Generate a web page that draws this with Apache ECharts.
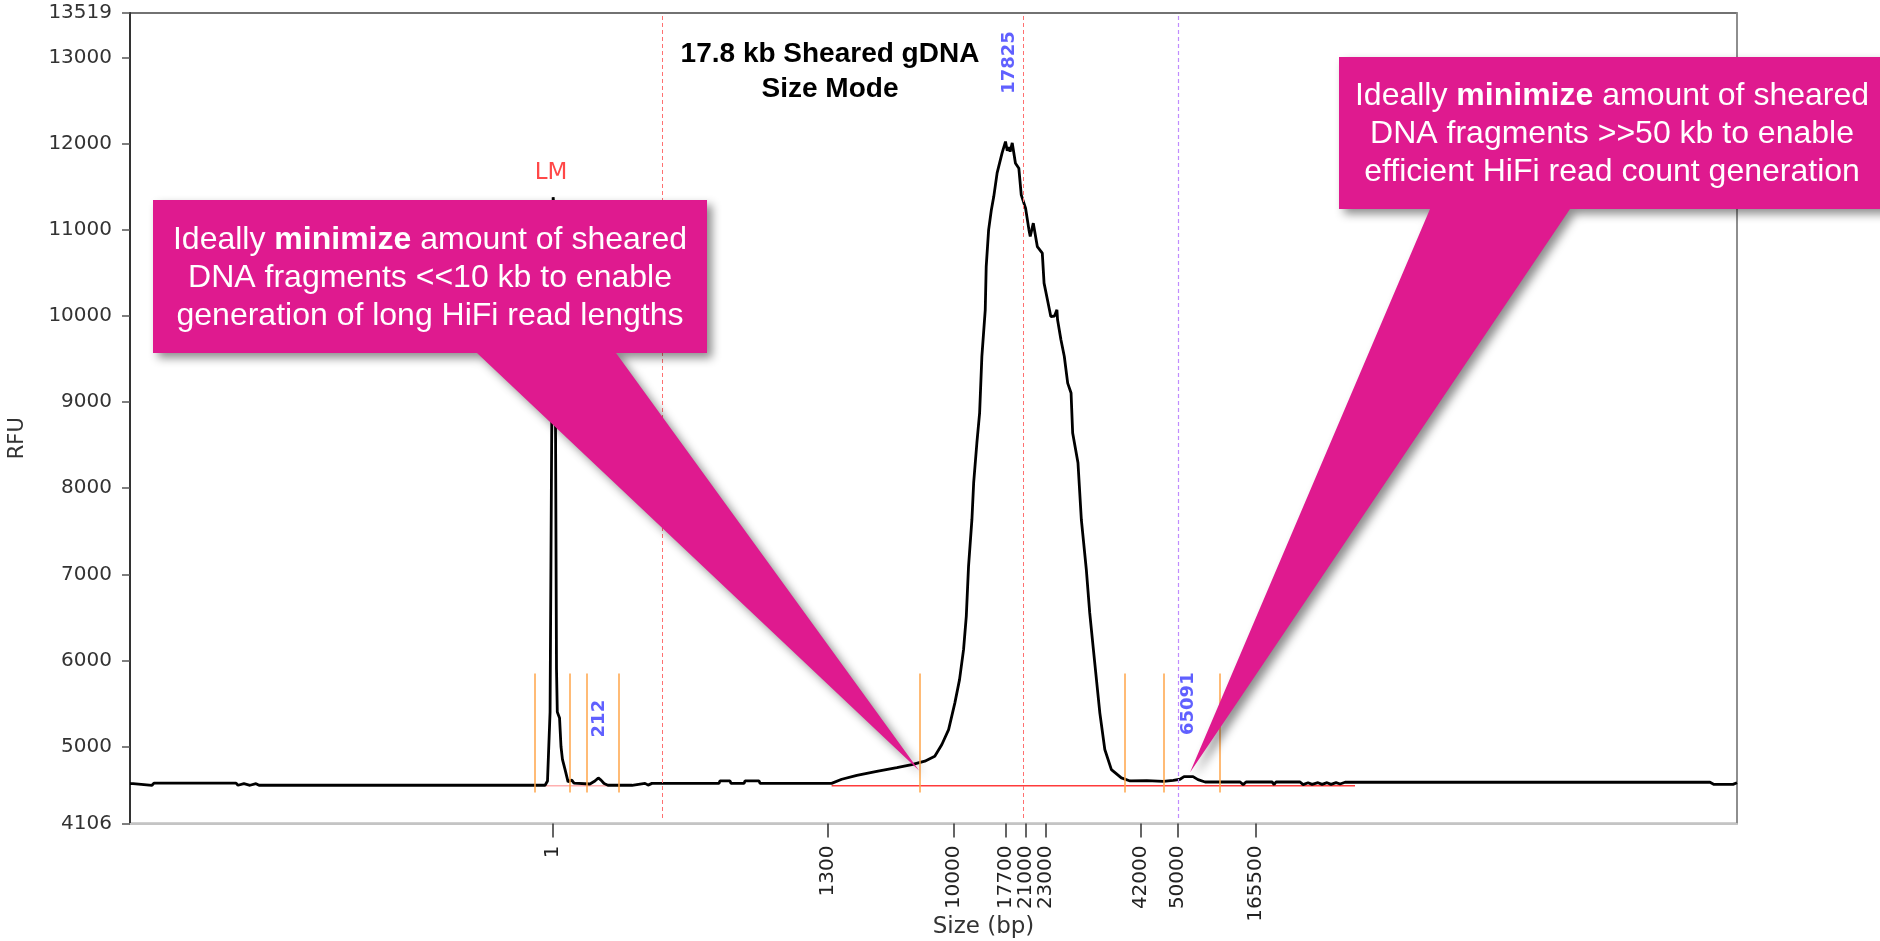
<!DOCTYPE html>
<html>
<head>
<meta charset="utf-8">
<script src="https://cdn.jsdelivr.net/npm/echarts@6/dist/echarts.min.js"></script>
<style>html,body{margin:0;padding:0;background:#fff}#c{width:1880px;height:941px}</style>
</head>
<body>
<div id="c"></div>
<script>
// ---------- DATA ----------
// migration position (0..1000, arbitrary units) of size-calibration ticks
const sizeTickPos = [263.0, 434.2, 512.8, 544.9, 557.7, 569.8, 628.9, 652.0, 700.5];
const sizeTickLabels = ['1', '1300', '10000', '17700', '21000', '23000', '42000', '50000', '165500'];
const rfuTicks = [4106, 5000, 6000, 7000, 8000, 9000, 10000, 11000, 12000, 13000, 13519];

// electropherogram trace (migration position, RFU)
const traceX = [0, 1.9, 3.1, 13.7, 14.9, 66.0, 67.2, 70.9, 74.7, 78.4, 80.3, 258.3,
  259.8, 261.4, 262.4, 263.3, 263.7, 264.8, 265.4, 265.9, 267.3, 268.2, 269.1, 270.7, 272.6, 274.9, 276.3,
  286.2, 289.3, 291.4, 293.1, 295.0, 297.4,
  312.4, 313.6, 320.5, 322.4, 324.8, 354.7, 366.5, 367.1, 373.4, 374.0, 382.1, 382.7, 391.4, 392.1, 436.6,
  442.9, 452.3, 464.7, 477.2, 486.5, 494.6, 500.8, 505.2, 509.4, 513.3, 516.2, 518.7, 520.4, 521.8,
  523.9, 525.0, 527.0, 528.7, 530.1, 532.2, 532.8, 534.3, 536.0, 537.5, 539.6, 542.7, 544.8, 545.9,
  546.9, 547.7, 549.0, 550.0, 551.0, 553.1, 554.6, 557.3, 559.4, 560.2, 562.1, 564.6, 567.7, 568.8,
  570.9, 573.0, 575.3, 576.8, 577.2, 579.3, 581.4, 583.5, 585.6, 586.6, 589.9, 592.0, 595.1, 597.2,
  599.3, 601.4, 603.5, 606.6, 610.7, 616.9, 622.3, 632.7, 643.0, 649.2, 653.4, 655.9, 661.5, 664.6, 669.0,
  690.8, 692.7, 694.5, 710.7, 712.0, 713.1, 728.1, 730.0, 733.1, 735.6, 739.3, 741.8, 744.9, 747.4,
  750.5, 753.0, 756.1, 983.2, 985.7, 997.5, 1000];
const traceY = [4570, 4570, 4550, 4550, 4575, 4575, 4550, 4568, 4550, 4568, 4550, 4550,
  4600, 5400, 8600, 11380, 11300, 8700, 5900, 5400, 5330, 5000, 4850, 4734, 4590, 4610, 4575,
  4565, 4600, 4635, 4610, 4570, 4550,
  4550, 4572, 4572, 4552, 4572, 4572, 4572, 4600, 4600, 4572, 4572, 4600, 4600, 4572, 4572,
  4620, 4665, 4710, 4755, 4790, 4830, 4887, 5023, 5197, 5507, 5777, 6125, 6512, 7092,
  7634, 8064, 8528, 8876, 9530, 10072, 10574, 11000, 11232, 11387, 11662, 11894, 12025, 11920,
  11960, 11909, 12010, 11987, 11774, 11716, 11407, 11252, 11000, 10923, 11078, 10806, 10730, 10382,
  10188, 9994, 10000, 10072, 9956, 9724, 9530, 9221, 9105, 8641, 8296, 7634, 7054, 6555,
  6164, 5777, 5391, 4965, 4732, 4636, 4600, 4605, 4595, 4608, 4620, 4650, 4650, 4615, 4588,
  4588, 4558, 4588, 4588, 4558, 4588, 4588, 4558, 4580, 4560, 4580, 4560, 4580, 4560,
  4580, 4565, 4585, 4585, 4560, 4560, 4580];

// fitted baselines
const sampleBaseX = [436.6, 762.3];
const sampleBaseY = [4545, 4545];
const markerBaseX = [258.3, 297.4];
const markerBaseY = [4545, 4545];

// peak-window markers (orange) and their RFU span
const windowMarkerX = [252.0, 273.8, 284.2, 304.3, 491.6, 619.2, 643.0, 678.3];
const windowMarkerRfu = [4466, 5847];
// smear-analysis boundaries (red dashed) and size-mode line (purple dashed)
const boundaryX = [331.5, 555.9];
const sizeLineX = [652.0];
const guideRfu = [4170, 13519];

// peak size annotations
const peakLabelText = ['17825', '65091', '212'];
const peakLabelX = [547.2, 658.4, 291.9];
const peakLabelY = [12944, 5498, 5324];
const markerLabelText = ['LM'];
const markerLabelX = [262.0];
const markerLabelY = [11662];

// callout targets (migration position, RFU)
const calloutTipX = [491.0, 659.6];
const calloutTipY = [4721, 4698];
const calloutLines = [
  ['{r|Ideally }{b|minimize}{r| amount of sheared}', '{r|DNA fragments <<10 kb to enable}', '{r|generation of long HiFi read lengths}'],
  ['{r|Ideally }{b|minimize}{r| amount of sheared}', '{r|DNA fragments >>50 kb to enable}', '{r|efficient HiFi read count generation}']
];

// ---------- CHART ----------
const FONT = 'DejaVu Sans';
const ARIAL = 'Liberation Sans, Arial, sans-serif';
const MAGENTA = '#DF1A8F';
const chart = echarts.init(document.getElementById('c'));

function sizeLabel(v) {
  let best = 0, d = Infinity;
  sizeTickPos.forEach((p, i) => { const dd = Math.abs(p - v); if (dd < d) { d = dd; best = i; } });
  return sizeTickLabels[best];
}
const pairs = (xs, ys) => xs.map((x, i) => [x, ys[i]]);

const markLines = [];
windowMarkerX.forEach(x => markLines.push([
  { coord: [x, windowMarkerRfu[0]], lineStyle: { color: '#ffa548', width: 1.5, type: 'solid' } },
  { coord: [x, windowMarkerRfu[1]] }
]));
boundaryX.forEach(x => markLines.push([
  { coord: [x, guideRfu[0]], lineStyle: { color: '#ff7070', width: 1, type: [4, 3] } },
  { coord: [x, guideRfu[1]] }
]));
sizeLineX.forEach(x => markLines.push([
  { coord: [x, guideRfu[0]], lineStyle: { color: '#c08cff', width: 1.2, type: [4, 3] } },
  { coord: [x, guideRfu[1]] }
]));

const option = {
  animation: false,
  backgroundColor: '#ffffff',
  title: {
    text: '17.8 kb Sheared gDNA\nSize Mode',
    left: 830, top: 37, textAlign: 'center', padding: 0,
    textStyle: { fontFamily: ARIAL, fontSize: 28, fontWeight: 'bold', color: '#000', lineHeight: 35 }
  },
  grid: { left: 130, right: 143, top: 13, bottom: 117.5, show: true, borderColor: '#444', borderWidth: 1.5,
    containLabel: false, outerBoundsMode: 'none' },
  xAxis: {
    type: 'value', min: 0, max: 1000,
    name: 'Size (bp)', nameLocation: 'middle', nameGap: 92, nameMoveOverlap: false,
    nameTextStyle: { fontFamily: FONT, fontSize: 23, color: '#333', padding: [0, 0, 0, 100] },
    axisLine: { lineStyle: { color: '#c4c4c4', width: 2 } },
    axisTick: { customValues: sizeTickPos, length: 14, lineStyle: { color: '#333', width: 1.5 } },
    axisLabel: { customValues: sizeTickPos, rotate: 90, margin: 22, fontFamily: FONT, fontSize: 20, color: '#222', formatter: sizeLabel },
    splitLine: { show: false }
  },
  yAxis: [{
    type: 'value', min: 4106, max: 13519,
    name: 'RFU', nameLocation: 'middle', nameRotate: 90, nameGap: 102, nameMoveOverlap: false,
    nameTextStyle: { fontFamily: FONT, fontSize: 21, color: '#333', padding: [0, 40, 0, 0] },
    axisLine: { show: true, lineStyle: { color: '#333', width: 2 } },
    axisTick: { show: true, customValues: rfuTicks, length: 8, lineStyle: { color: '#555', width: 1.5 } },
    axisLabel: { customValues: rfuTicks, margin: 18, fontFamily: FONT, fontSize: 20, color: '#333', formatter: v => String(v) },
    splitLine: { show: false }
  }, {
    type: 'value', min: 4106, max: 13519, position: 'right',
    axisLine: { show: true, lineStyle: { color: '#999', width: 1.5 } },
    axisTick: { show: false }, axisLabel: { show: false }, splitLine: { show: false }
  }],
  series: [
    { name: 'Sample baseline', type: 'line', data: pairs(sampleBaseX, sampleBaseY), showSymbol: false, silent: true,
      lineStyle: { color: '#ff3b3b', width: 1.5 }, z: 2 },
    { name: 'Marker baseline', type: 'line', data: pairs(markerBaseX, markerBaseY), showSymbol: false, silent: true,
      lineStyle: { color: '#ffb0b0', width: 1.5 }, z: 2 },
    { name: 'Trace', type: 'line', data: pairs(traceX, traceY), showSymbol: false, silent: true,
      lineStyle: { color: '#000', width: 2.8 }, z: 3,
      markLine: { silent: true, symbol: ['none', 'none'], label: { show: false }, data: markLines } },
    { name: 'Peak sizes', type: 'scatter', symbolSize: 0, silent: true, z: 5,
      data: peakLabelX.map((x, i) => [x, peakLabelY[i], peakLabelText[i]]),
      label: { show: true, position: 'inside', rotate: 90, formatter: p => p.data[2],
        fontFamily: FONT, fontWeight: 'bold', fontSize: 18, color: '#3838ff' } },
    { name: 'Marker', type: 'scatter', symbolSize: 0, silent: true, z: 5,
      data: markerLabelX.map((x, i) => [x, markerLabelY[i], markerLabelText[i]]),
      label: { show: true, position: 'inside', formatter: p => p.data[2],
        fontFamily: FONT, fontSize: 23, color: '#ff1a1a' } }
  ]
};
chart.setOption(option);

// callouts anchored on data points
const boxes = [
  { x1: 153, y1: 200, x2: 707, y2: 353, b1: 477, b2: 616, tx: 430, ty: 278 },
  { x1: 1339, y1: 57, x2: 1895, y2: 209, b1: 1430, b2: 1570, tx: 1612, ty: 134 }
];
const graphics = [];
boxes.forEach((b, i) => {
  const tip = chart.convertToPixel({ gridIndex: 0 }, [calloutTipX[i], calloutTipY[i]]);
  graphics.push({
    type: 'polygon', z: 100, silent: true,
    shape: { points: [[b.x1, b.y1], [b.x2, b.y1], [b.x2, b.y2], [b.b2, b.y2], tip, [b.b1, b.y2], [b.x1, b.y2]] },
    style: { fill: MAGENTA, shadowBlur: 10, shadowOffsetX: 5, shadowOffsetY: 5, shadowColor: 'rgba(0,0,0,0.45)' }
  });
  graphics.push({
    type: 'text', z: 101, silent: true, x: b.tx, y: b.ty,
    style: {
      text: calloutLines[i].join('\n'),
      align: 'center', verticalAlign: 'middle', textAlign: 'center', textVerticalAlign: 'middle',
      fill: '#fff', fontFamily: ARIAL, fontSize: 32, lineHeight: 38,
      rich: {
        r: { fontFamily: ARIAL, fontSize: 32, lineHeight: 38, fill: '#fff', color: '#fff' },
        b: { fontFamily: ARIAL, fontSize: 32, lineHeight: 38, fontWeight: 'bold', fill: '#fff', color: '#fff' }
      }
    }
  });
});
chart.setOption({ graphic: graphics });
</script>
</body>
</html>
